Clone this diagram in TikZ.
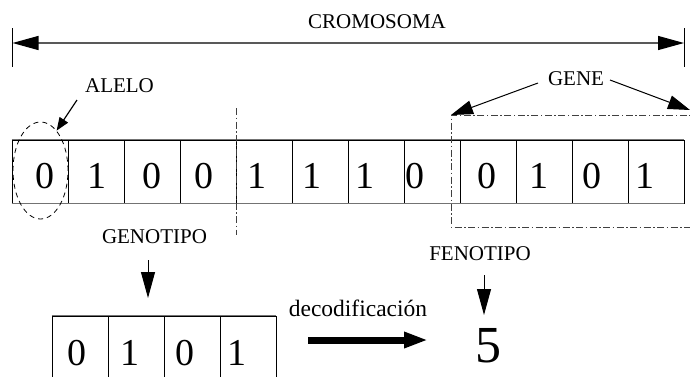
\documentclass[tikz,border=0pt]{standalone}
\usepackage{fontspec}
\setmainfont{Liberation Serif}
\usetikzlibrary{arrows.meta,shapes.geometric}
\begin{document}
\begin{tikzpicture}[x=1pt,y=-1pt,
  cell/.style={draw=black,line width=0.8pt,minimum width=56pt,minimum height=63pt,inner sep=0pt},
  rowedge/.style={draw=black!55,line width=1.6pt},
  digit/.style={font=\fontsize{38}{38}\selectfont,anchor=base,inner sep=0pt},
  lbl/.style={font=\fontsize{21}{22}\selectfont,anchor=base,inner sep=0pt},
  dashdot/.style={draw=black!75,line width=0.9pt,dash pattern=on 7pt off 2.5pt on 1.5pt off 2.5pt},
  bigtip/.style={line width=1pt,-{Triangle[length=26pt,width=14pt]}},
  midtip/.style={line width=1pt,-{Triangle[length=22pt,width=14pt]}},
  smalltip/.style={line width=1.2pt,-{Triangle[length=13pt,width=10pt]}},
  bar/.style={line width=1pt}]
\clip (0,0) rectangle (690,376);

% chromosome cells
\foreach \i in {1,...,12} {
  \node[cell] (c\i) at ({40+56*(\i-1)},171.5) {};
}
\draw[rowedge] (c1.north west) -- (c12.north east);
\draw[rowedge] (c1.south west) -- (c12.south east);

% bits of the chromosome
\foreach \x/\b [count=\k] in {45/0,97/1,152/0,204/0,257/1,312/1,365/1,415/0,487/0,539/1,592/0,645/1} {
  \node[digit] (d\k) at (\x,188) {\b};
}

% CROMOSOMA span
\node[lbl] (crom) at (377,28) {CROMOSOMA};
\coordinate (cl) at (12.5,43);
\coordinate (cr) at (684,43);
\draw[bar] (12.5,28) -- (12.5,67);
\draw[bar] (684,28) -- (684,67);
\draw[line width=1.3pt,draw=black!65,{Triangle[length=26pt,width=14pt,fill=black,color=black]}-{Triangle[length=26pt,width=14pt,fill=black,color=black]}] (cl) -- (cr);

% ALELO
\node[lbl] (alelo) at (119.5,92) {ALELO};
\node[draw,dash pattern=on 5pt off 4pt,line width=0.8pt,ellipse,minimum width=55pt,minimum height=97pt,inner sep=0pt] (allele) at (40.5,170.5) {};
\coordinate (aleloA) at (77,100);
\draw[smalltip] (aleloA) -- (allele.68);

% genotype / phenotype boundary
\draw[dashdot] (236,108) -- (236,235);

% GENE block
\coordinate (gtl) at (451,115);
\coordinate (gtr) at (700,115);
\coordinate (gbl) at (451,227);
\coordinate (gbr) at (700,227);
\draw[dashdot] (gtr) -- (gtl) -- (gbl) -- (gbr);
\node[lbl] (gene) at (576,85) {GENE};
\coordinate (geneL) at (538,83);
\coordinate (geneR) at (610,80);
\coordinate (geneRT) at (690,110);
\draw[midtip] (geneL) -- (gtl);
\draw[midtip] (geneR) -- (geneRT);

% GENOTIPO
\node[lbl] (genotipo) at (154.5,243) {GENOTIPO};
\coordinate (gtA) at (148,260);
\coordinate (gtB) at (148,298);
\draw[bigtip] (gtA) -- (gtB);

% decoded gene
\foreach \i in {1,...,4} {
  \node[cell,minimum height=90pt] (s\i) at ({80+56*(\i-1)},361) {};
}
\draw[rowedge] (s1.north west) -- (s4.north east);
\foreach \x/\b [count=\k] in {77/0,130/1,185/0,237/1} {
  \node[digit] (e\k) at (\x,365) {\b};
}

% decoding arrow
\node[font=\fontsize{23.5}{24}\selectfont,anchor=base,inner sep=0pt] (deco) at (358,316) {decodificación};
\coordinate (decA) at (308,340);
\coordinate (decB) at (428,340);
\draw[line width=7pt,-{Triangle[length=24pt,width=15pt]}] (decA) -- (decB);

% FENOTIPO
\node[lbl] (fenotipo) at (480,260) {FENOTIPO};
\coordinate (ftA) at (484,275);
\coordinate (ftB) at (484,315);
\draw[bigtip] (ftA) -- (ftB);
\node[font=\fontsize{52}{52}\selectfont,anchor=base,inner sep=0pt] (five) at (488,362) {5};
\end{tikzpicture}
\end{document}
